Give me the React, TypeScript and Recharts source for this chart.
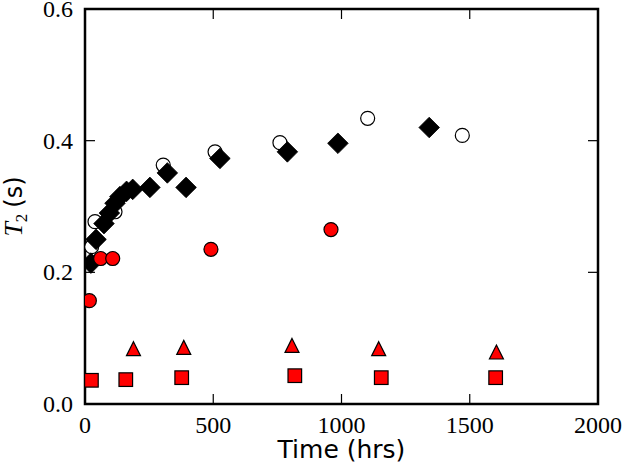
import React from 'react';
import { ScatterChart, Scatter, XAxis, YAxis, ReferenceArea, ReferenceLine } from 'recharts';

// Open circles (white fill)
const openTime = [26, 39, 117, 305, 507, 760, 1102, 1471];
const openT2 = [0.239, 0.277, 0.292, 0.363, 0.383, 0.397, 0.434, 0.408];
// Black diamonds
const diamondTime = [23, 43, 74, 95, 117, 136, 162, 186, 253, 321, 394, 526, 789, 986, 1342];
const diamondT2 = [0.214, 0.25, 0.274, 0.29, 0.305, 0.315, 0.323, 0.326, 0.329, 0.351, 0.329, 0.373, 0.383, 0.396, 0.42];
// Red circles
const redCircleTime = [17, 61, 108, 491, 959];
const redCircleT2 = [0.157, 0.221, 0.221, 0.235, 0.265];
// Red triangles
const triangleTime = [189, 385, 807, 1145, 1604];
const triangleT2 = [0.084, 0.086, 0.089, 0.084, 0.079];
// Red squares
const squareTime = [25, 159, 377, 818, 1155, 1601];
const squareT2 = [0.036, 0.037, 0.04, 0.043, 0.04, 0.04];

const xTicks = [0, 500, 1000, 1500, 2000];
const yTicks = [0, 0.2, 0.4, 0.6];
const X_MAX = 2000;
const Y_MAX = 0.6;

const toPoints = (xs: number[], ys: number[]) => xs.map((x, i) => ({ x, y: ys[i] }));

const openData = toPoints(openTime, openT2);
const diamondData = toPoints(diamondTime, diamondT2);
const redCircleData = toPoints(redCircleTime, redCircleT2);
const triangleData = toPoints(triangleTime, triangleT2);
const squareData = toPoints(squareTime, squareT2);

const RED = '#ff0000';

const W = 625;
const H = 473;
const M = { top: 9, right: 27, bottom: 0, left: 0 };
const Y_AXIS_W = 85;
const X_AXIS_H = 69;
const PLOT_LEFT = M.left + Y_AXIS_W;
const PLOT_RIGHT = W - M.right;
const PLOT_TOP = M.top;
const PLOT_BOTTOM = H - M.bottom - X_AXIS_H;
const TICK_PX = 10;
// tick length expressed in data units (so the library's scales draw it)
const TICK_DX = (TICK_PX * X_MAX) / (PLOT_RIGHT - PLOT_LEFT);
const TICK_DY = (TICK_PX * Y_MAX) / (PLOT_BOTTOM - PLOT_TOP);

const OpenCircle = (p: any) => (
  <circle cx={p.cx} cy={p.cy} r={7} fill="#fff" stroke="#000" strokeWidth={1.2} />
);
const Diamond = (p: any) => {
  const h = 10.3;
  return (
    <polygon
      points={`${p.cx},${p.cy - h} ${p.cx + h},${p.cy} ${p.cx},${p.cy + h} ${p.cx - h},${p.cy}`}
      fill="#000"
      stroke="#000"
      strokeWidth={0.8}
    />
  );
};
const RedCircle = (p: any) => (
  <circle cx={p.cx} cy={p.cy} r={7} fill={RED} stroke="#000" strokeWidth={1.2} />
);
const Triangle = (p: any) => {
  const h = 7;
  return (
    <polygon
      points={`${p.cx},${p.cy - h} ${p.cx + h},${p.cy + h} ${p.cx - h},${p.cy + h}`}
      fill={RED}
      stroke="#000"
      strokeWidth={1.2}
    />
  );
};
const Square = (p: any) => (
  <rect x={p.cx - 6.8} y={p.cy - 6.8} width={13.6} height={13.6} fill={RED} stroke="#000" strokeWidth={1.2} />
);

const serif = '"Liberation Serif", "DejaVu Serif", serif';
const sans = '"DejaVu Sans", sans-serif';

const renderXTick = (p: any) => (
  <text
    x={p.x}
    y={PLOT_BOTTOM + 29}
    textAnchor="middle"
    fill="#000"
    style={{ fontFamily: serif, fontSize: '24px' }}
  >
    {String(p.payload.value)}
  </text>
);

const renderYTick = (p: any) => (
  <text
    x={PLOT_LEFT - 12}
    y={p.y + 8}
    textAnchor="end"
    fill="#000"
    style={{ fontFamily: serif, fontSize: '24px' }}
  >
    {Number(p.payload.value).toFixed(1)}
  </text>
);

const XLabel = () => (
  <text
    x={(PLOT_LEFT + PLOT_RIGHT) / 2}
    y={458}
    textAnchor="middle"
    fill="#000"
    style={{ fontFamily: sans, fontSize: '25px' }}
  >
    Time (hrs)
  </text>
);

const YLabel = () => (
  <text transform={`translate(22,${(PLOT_TOP + PLOT_BOTTOM) / 2}) rotate(-90)`} textAnchor="middle" fill="#000">
    <tspan style={{ fontFamily: serif, fontStyle: 'italic', fontSize: '26px' }}>T</tspan>
    <tspan style={{ fontFamily: serif, fontSize: '17px' }} dy={5}>2</tspan>
    <tspan style={{ fontFamily: sans, fontSize: '24px' }} dy={-5} dx={6}>(s)</tspan>
  </text>
);

const innerX = xTicks.filter((t) => t > 0 && t < X_MAX);
const innerY = yTicks.filter((t) => t > 0 && t < Y_MAX);

export default function App() {
  const tickLines: React.ReactNode[] = [];
  innerX.forEach((t) => {
    tickLines.push(
      <ReferenceLine
        key={`xb${t}`}
        xAxisId="b"
        yAxisId="l"
        segment={[{ x: t, y: 0 }, { x: t, y: TICK_DY }]}
        stroke="#000"
        strokeWidth={1.2}
        ifOverflow="visible"
      />,
      <ReferenceLine
        key={`xt${t}`}
        xAxisId="b"
        yAxisId="l"
        segment={[{ x: t, y: Y_MAX }, { x: t, y: Y_MAX - TICK_DY }]}
        stroke="#000"
        strokeWidth={1.2}
        ifOverflow="visible"
      />
    );
  });
  innerY.forEach((t) => {
    tickLines.push(
      <ReferenceLine
        key={`yl${t}`}
        xAxisId="b"
        yAxisId="l"
        segment={[{ x: 0, y: t }, { x: TICK_DX, y: t }]}
        stroke="#000"
        strokeWidth={1.2}
        ifOverflow="visible"
      />,
      <ReferenceLine
        key={`yr${t}`}
        xAxisId="b"
        yAxisId="l"
        segment={[{ x: X_MAX, y: t }, { x: X_MAX - TICK_DX, y: t }]}
        stroke="#000"
        strokeWidth={1.2}
        ifOverflow="visible"
      />
    );
  });

  return (
    <div style={{ position: 'absolute', left: 0, top: 0, width: W, height: H, background: '#fff' }}>
      <ScatterChart width={W} height={H} margin={M}>
        <XAxis
          xAxisId="b"
          dataKey="x"
          type="number"
          domain={[0, X_MAX]}
          ticks={xTicks}
          orientation="bottom"
          height={X_AXIS_H}
          tick={renderXTick}
          axisLine={false}
          tickLine={false}
          interval={0}
          allowDataOverflow
          label={<XLabel />}
        />
        <YAxis
          yAxisId="l"
          dataKey="y"
          type="number"
          domain={[0, Y_MAX]}
          ticks={yTicks}
          orientation="left"
          width={Y_AXIS_W}
          tick={renderYTick}
          axisLine={false}
          tickLine={false}
          interval={0}
          allowDataOverflow
          label={<YLabel />}
        />
        {tickLines}
        <Scatter xAxisId="b" yAxisId="l" data={openData} shape={OpenCircle} isAnimationActive={false} />
        <Scatter xAxisId="b" yAxisId="l" data={diamondData} shape={Diamond} isAnimationActive={false} />
        <Scatter xAxisId="b" yAxisId="l" data={redCircleData} shape={RedCircle} isAnimationActive={false} />
        <Scatter xAxisId="b" yAxisId="l" data={triangleData} shape={Triangle} isAnimationActive={false} />
        <Scatter xAxisId="b" yAxisId="l" data={squareData} shape={Square} isAnimationActive={false} />
        <ReferenceArea
          xAxisId="b"
          yAxisId="l"
          x1={0}
          x2={X_MAX}
          y1={0}
          y2={Y_MAX}
          fill="none"
          fillOpacity={0}
          stroke="#000"
          strokeWidth={2.5}
          strokeOpacity={1}
          ifOverflow="visible"
        />
      </ScatterChart>
    </div>
  );
}
